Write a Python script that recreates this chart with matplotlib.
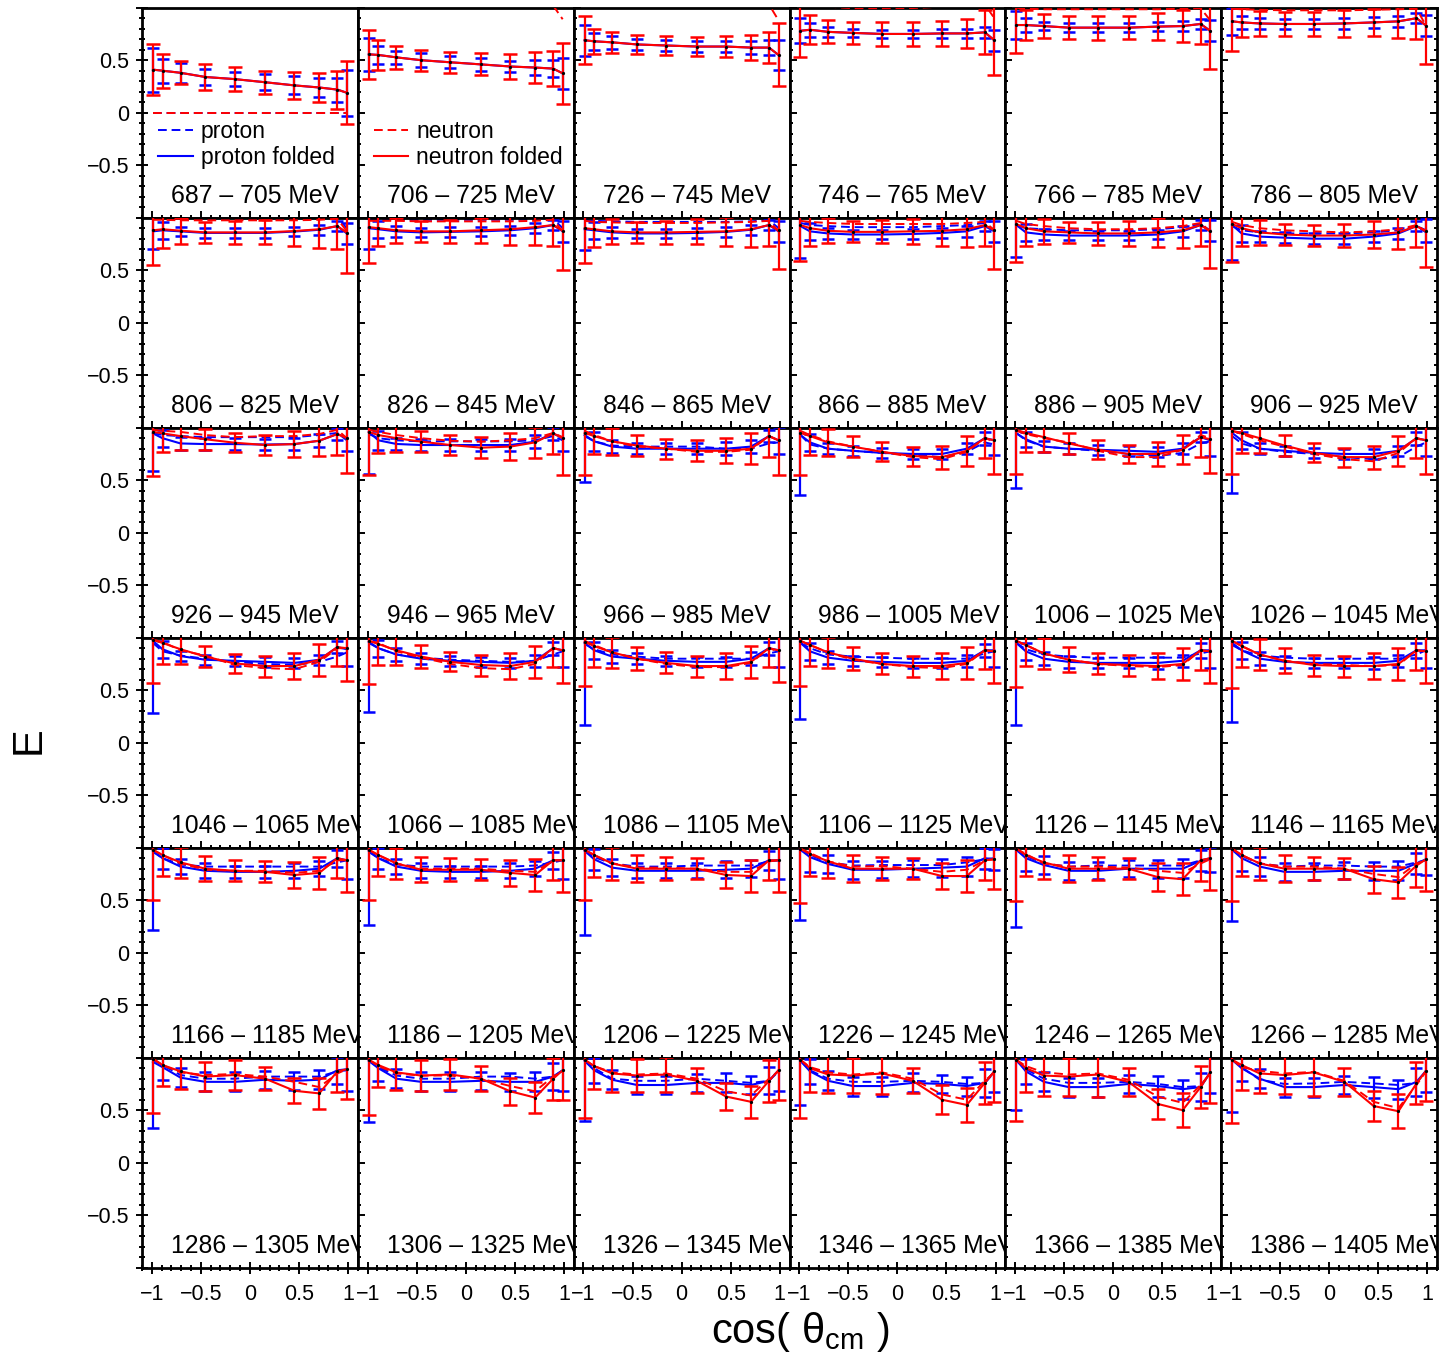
import matplotlib
matplotlib.use("Agg")
import matplotlib.pyplot as plt
from matplotlib.ticker import MultipleLocator, FixedLocator
from matplotlib.lines import Line2D

plt.rcParams['font.family'] = ['Liberation Sans', 'DejaVu Sans']
plt.rcParams['axes.unicode_minus'] = True

# cos(theta_cm) bin centres
COS_THETA = [-0.988, -0.891, -0.707, -0.454, -0.156, 0.156, 0.454, 0.707, 0.891, 0.988]

# photon energy bins (MeV)
E_LOW = [687, 706, 726, 746, 766, 786,
         806, 826, 846, 866, 886, 906,
         926, 946, 966, 986, 1006, 1026,
         1046, 1066, 1086, 1106, 1126, 1146,
         1166, 1186, 1206, 1226, 1246, 1266,
         1286, 1306, 1326, 1346, 1366, 1386]
E_HIGH = [705, 725, 745, 765, 785, 805,
          825, 845, 865, 885, 905, 925,
          945, 965, 985, 1005, 1025, 1045,
          1065, 1085, 1105, 1125, 1145, 1165,
          1185, 1205, 1225, 1245, 1265, 1285,
          1305, 1325, 1345, 1365, 1385, 1405]

# E for the proton (unfolded)
PROTON = [
    [0, 0, 0, 0, 0, 0, 0, 0, 0, 0],
    [1.1, 1.08, 1.06, 1.04, 1.02, 1.01, 1.0, 1.02, 1.04, 1.05],
    [1.08, 1.06, 1.04, 1.03, 1.02, 1.02, 1.02, 1.03, 1.04, 1.04],
    [1.04, 1.03, 1.01, 0.995, 0.995, 0.997, 1.01, 1.02, 1.03, 1.04],
    [1.01, 1.0, 0.998, 0.996, 0.996, 0.996, 0.997, 0.998, 1.0, 1.01],
    [0.998, 0.998, 0.995, 0.993, 0.993, 0.993, 0.995, 0.997, 1.0, 1.0],
    [0.99, 0.99, 0.99, 0.985, 0.985, 0.985, 0.99, 0.99, 1.0, 0.9],
    [0.99, 0.985, 0.98, 0.98, 0.98, 0.98, 0.98, 0.985, 0.99, 0.9],
    [0.98, 0.97, 0.965, 0.96, 0.96, 0.96, 0.96, 0.965, 0.98, 0.9],
    [0.95, 0.93, 0.92, 0.91, 0.91, 0.91, 0.92, 0.93, 0.95, 0.88],
    [0.93, 0.9, 0.89, 0.88, 0.88, 0.88, 0.89, 0.91, 0.94, 0.87],
    [0.92, 0.88, 0.86, 0.85, 0.85, 0.85, 0.86, 0.88, 0.92, 0.86],
    [0.95, 0.93, 0.92, 0.91, 0.91, 0.91, 0.91, 0.93, 0.95, 0.88],
    [0.94, 0.9, 0.88, 0.87, 0.87, 0.87, 0.87, 0.88, 0.92, 0.88],
    [0.92, 0.87, 0.83, 0.82, 0.82, 0.82, 0.8, 0.8, 0.85, 0.86],
    [0.93, 0.84, 0.8, 0.78, 0.76, 0.74, 0.72, 0.77, 0.86, 0.84],
    [0.95, 0.88, 0.82, 0.8, 0.78, 0.75, 0.73, 0.76, 0.85, 0.87],
    [0.92, 0.85, 0.8, 0.77, 0.75, 0.72, 0.7, 0.72, 0.82, 0.86],
    [0.95, 0.87, 0.83, 0.8, 0.77, 0.75, 0.74, 0.77, 0.82, 0.86],
    [0.95, 0.9, 0.84, 0.81, 0.79, 0.78, 0.77, 0.78, 0.84, 0.87],
    [0.94, 0.89, 0.84, 0.82, 0.8, 0.8, 0.8, 0.8, 0.85, 0.87],
    [0.95, 0.9, 0.84, 0.82, 0.81, 0.8, 0.8, 0.8, 0.85, 0.87],
    [0.95, 0.89, 0.84, 0.82, 0.81, 0.81, 0.81, 0.81, 0.85, 0.87],
    [0.93, 0.88, 0.83, 0.81, 0.8, 0.8, 0.8, 0.8, 0.84, 0.88],
    [0.96, 0.9, 0.84, 0.82, 0.82, 0.82, 0.82, 0.82, 0.86, 0.88],
    [0.96, 0.9, 0.84, 0.82, 0.82, 0.82, 0.82, 0.83, 0.86, 0.88],
    [0.97, 0.91, 0.85, 0.82, 0.82, 0.83, 0.83, 0.83, 0.87, 0.88],
    [0.98, 0.93, 0.86, 0.83, 0.835, 0.835, 0.835, 0.86, 0.89, 0.9],
    [0.98, 0.92, 0.85, 0.82, 0.83, 0.83, 0.83, 0.83, 0.88, 0.9],
    [0.98, 0.92, 0.85, 0.82, 0.83, 0.83, 0.82, 0.82, 0.86, 0.88],
    [0.98, 0.93, 0.835, 0.8, 0.8, 0.82, 0.82, 0.82, 0.87, 0.88],
    [0.97, 0.91, 0.83, 0.8, 0.8, 0.82, 0.82, 0.8, 0.82, 0.88],
    [0.97, 0.9, 0.8, 0.78, 0.78, 0.8, 0.78, 0.76, 0.78, 0.87],
    [0.97, 0.88, 0.8, 0.77, 0.77, 0.78, 0.77, 0.75, 0.76, 0.86],
    [0.97, 0.89, 0.8, 0.76, 0.76, 0.77, 0.75, 0.72, 0.73, 0.85],
    [0.98, 0.91, 0.79, 0.75, 0.755, 0.77, 0.755, 0.74, 0.76, 0.875],
]

# E for the proton after folding
PROTON_FOLDED = [
    [0.41, 0.40, 0.38, 0.34, 0.32, 0.29, 0.26, 0.24, 0.22, 0.19],
    [0.556, 0.55, 0.527, 0.5, 0.48, 0.46, 0.44, 0.43, 0.42, 0.375],
    [0.69, 0.68, 0.67, 0.65, 0.64, 0.63, 0.63, 0.62, 0.62, 0.55],
    [0.78, 0.79, 0.77, 0.76, 0.75, 0.75, 0.755, 0.755, 0.765, 0.69],
    [0.835, 0.835, 0.825, 0.81, 0.81, 0.81, 0.82, 0.825, 0.845, 0.78],
    [0.87, 0.86, 0.85, 0.845, 0.845, 0.85, 0.86, 0.87, 0.9, 0.83],
    [0.87, 0.88, 0.87, 0.855, 0.855, 0.855, 0.868, 0.885, 0.92, 0.85],
    [0.9, 0.89, 0.87, 0.86, 0.865, 0.87, 0.88, 0.9, 0.93, 0.87],
    [0.89, 0.88, 0.86, 0.85, 0.85, 0.855, 0.865, 0.885, 0.93, 0.87],
    [0.92, 0.87, 0.85, 0.84, 0.84, 0.845, 0.855, 0.87, 0.92, 0.87],
    [0.93, 0.86, 0.84, 0.83, 0.83, 0.83, 0.84, 0.87, 0.93, 0.88],
    [0.93, 0.85, 0.82, 0.81, 0.8, 0.8, 0.82, 0.85, 0.92, 0.88],
    [0.946, 0.9, 0.85, 0.844, 0.844, 0.84, 0.844, 0.876, 0.94, 0.9],
    [0.96, 0.88, 0.845, 0.835, 0.835, 0.835, 0.835, 0.867, 0.946, 0.9],
    [0.93, 0.87, 0.82, 0.8, 0.8, 0.8, 0.8, 0.82, 0.92, 0.88],
    [0.93, 0.86, 0.8, 0.78, 0.76, 0.75, 0.75, 0.8, 0.9, 0.88],
    [0.946, 0.89, 0.82, 0.8, 0.79, 0.78, 0.77, 0.8, 0.91, 0.88],
    [0.95, 0.88, 0.8, 0.78, 0.76, 0.75, 0.75, 0.78, 0.9, 0.88],
    [0.97, 0.89, 0.825, 0.79, 0.78, 0.77, 0.76, 0.79, 0.91, 0.89],
    [0.96, 0.9, 0.84, 0.8, 0.78, 0.77, 0.76, 0.78, 0.9, 0.88],
    [0.95, 0.88, 0.82, 0.8, 0.78, 0.77, 0.77, 0.8, 0.9, 0.88],
    [0.95, 0.87, 0.81, 0.78, 0.77, 0.76, 0.76, 0.78, 0.88, 0.88],
    [0.95, 0.87, 0.8, 0.77, 0.76, 0.76, 0.76, 0.78, 0.88, 0.88],
    [0.95, 0.88, 0.8, 0.77, 0.76, 0.76, 0.76, 0.78, 0.88, 0.88],
    [0.97, 0.9, 0.82, 0.78, 0.77, 0.77, 0.78, 0.8, 0.9, 0.88],
    [0.97, 0.9, 0.82, 0.78, 0.77, 0.77, 0.78, 0.8, 0.88, 0.88],
    [0.97, 0.89, 0.81, 0.78, 0.78, 0.78, 0.79, 0.8, 0.88, 0.88],
    [0.98, 0.91, 0.845, 0.79, 0.79, 0.8, 0.81, 0.82, 0.9, 0.89],
    [0.98, 0.9, 0.835, 0.78, 0.78, 0.8, 0.8, 0.8, 0.875, 0.89],
    [0.98, 0.9, 0.82, 0.77, 0.77, 0.78, 0.78, 0.78, 0.85, 0.89],
    [0.96, 0.91, 0.81, 0.77, 0.77, 0.79, 0.78, 0.79, 0.88, 0.89],
    [0.97, 0.9, 0.8, 0.77, 0.77, 0.78, 0.77, 0.77, 0.82, 0.88],
    [0.97, 0.88, 0.79, 0.74, 0.74, 0.76, 0.76, 0.74, 0.78, 0.88],
    [0.97, 0.87, 0.78, 0.73, 0.73, 0.76, 0.75, 0.73, 0.76, 0.87],
    [0.98, 0.87, 0.77, 0.72, 0.72, 0.75, 0.73, 0.7, 0.72, 0.86],
    [0.98, 0.9, 0.8, 0.72, 0.72, 0.74, 0.72, 0.7, 0.77, 0.875],
]

# E for the neutron (unfolded)
NEUTRON = [
    [0, 0, 0, 0, 0, 0, 0, 0, 0, 0],
    [1.1, 1.08, 1.06, 1.05, 1.04, 1.04, 1.04, 1.05, 1.02, 0.89],
    [1.08, 1.06, 1.05, 1.04, 1.04, 1.04, 1.04, 1.04, 1.03, 0.88],
    [1.04, 1.03, 1.01, 0.995, 0.995, 0.997, 1.01, 1.02, 1.03, 0.9],
    [1.0, 0.99, 0.985, 0.985, 0.985, 0.985, 0.985, 0.99, 0.995, 0.88],
    [0.99, 0.985, 0.98, 0.975, 0.975, 0.975, 0.98, 0.985, 0.99, 0.83],
    [0.98, 0.98, 0.975, 0.975, 0.975, 0.975, 0.975, 0.98, 0.99, 0.87],
    [0.97, 0.97, 0.97, 0.965, 0.965, 0.965, 0.965, 0.97, 0.98, 0.87],
    [0.97, 0.96, 0.955, 0.95, 0.95, 0.95, 0.955, 0.96, 0.97, 0.87],
    [0.97, 0.96, 0.95, 0.94, 0.94, 0.94, 0.94, 0.95, 0.96, 0.88],
    [0.97, 0.94, 0.92, 0.9, 0.89, 0.89, 0.9, 0.92, 0.95, 0.87],
    [0.96, 0.93, 0.9, 0.88, 0.87, 0.86, 0.87, 0.89, 0.93, 0.87],
    [0.98, 0.97, 0.96, 0.93, 0.91, 0.92, 0.92, 0.94, 0.98, 0.9],
    [0.98, 0.96, 0.93, 0.9, 0.876, 0.867, 0.88, 0.9, 0.95, 0.91],
    [0.97, 0.93, 0.87, 0.82, 0.8, 0.77, 0.77, 0.79, 0.92, 0.88],
    [0.97, 0.93, 0.87, 0.82, 0.77, 0.72, 0.7, 0.77, 0.9, 0.87],
    [0.97, 0.94, 0.9, 0.86, 0.78, 0.72, 0.72, 0.79, 0.93, 0.9],
    [0.97, 0.94, 0.88, 0.82, 0.75, 0.7, 0.68, 0.76, 0.9, 0.87],
    [0.98, 0.96, 0.88, 0.83, 0.74, 0.71, 0.7, 0.77, 0.9, 0.9],
    [0.97, 0.95, 0.87, 0.81, 0.75, 0.71, 0.7, 0.75, 0.9, 0.88],
    [0.97, 0.93, 0.86, 0.8, 0.75, 0.72, 0.72, 0.76, 0.9, 0.87],
    [0.97, 0.93, 0.86, 0.79, 0.75, 0.72, 0.71, 0.75, 0.88, 0.87],
    [0.97, 0.93, 0.85, 0.79, 0.75, 0.73, 0.72, 0.74, 0.88, 0.87],
    [0.97, 0.92, 0.84, 0.78, 0.75, 0.74, 0.73, 0.74, 0.88, 0.87],
    [0.98, 0.93, 0.85, 0.79, 0.78, 0.78, 0.76, 0.78, 0.88, 0.88],
    [0.98, 0.93, 0.85, 0.8, 0.8, 0.8, 0.78, 0.77, 0.88, 0.88],
    [0.98, 0.93, 0.85, 0.81, 0.81, 0.8, 0.77, 0.77, 0.87, 0.88],
    [0.99, 0.95, 0.87, 0.82, 0.825, 0.8, 0.77, 0.79, 0.88, 0.89],
    [0.99, 0.94, 0.85, 0.82, 0.82, 0.81, 0.78, 0.76, 0.85, 0.89],
    [0.99, 0.93, 0.85, 0.82, 0.82, 0.8, 0.75, 0.72, 0.85, 0.88],
    [0.99, 0.93, 0.86, 0.835, 0.845, 0.82, 0.77, 0.72, 0.85, 0.89],
    [0.98, 0.92, 0.85, 0.83, 0.83, 0.8, 0.73, 0.68, 0.82, 0.87],
    [0.98, 0.92, 0.86, 0.84, 0.85, 0.8, 0.68, 0.64, 0.8, 0.87],
    [0.98, 0.91, 0.86, 0.84, 0.86, 0.8, 0.65, 0.6, 0.78, 0.86],
    [0.98, 0.92, 0.86, 0.84, 0.85, 0.79, 0.63, 0.57, 0.74, 0.85],
    [0.98, 0.91, 0.875, 0.85, 0.865, 0.78, 0.58, 0.52, 0.74, 0.87],
]

# E for the neutron after folding
NEUTRON_FOLDED = [
    [0.41, 0.40, 0.38, 0.34, 0.32, 0.29, 0.26, 0.24, 0.22, 0.19],
    [0.556, 0.55, 0.527, 0.5, 0.48, 0.46, 0.44, 0.43, 0.42, 0.375],
    [0.69, 0.68, 0.67, 0.65, 0.64, 0.63, 0.63, 0.62, 0.62, 0.55],
    [0.78, 0.79, 0.77, 0.76, 0.75, 0.75, 0.755, 0.755, 0.765, 0.69],
    [0.835, 0.835, 0.825, 0.81, 0.81, 0.81, 0.82, 0.825, 0.845, 0.78],
    [0.87, 0.86, 0.85, 0.845, 0.845, 0.85, 0.86, 0.87, 0.9, 0.83],
    [0.88, 0.89, 0.876, 0.86, 0.86, 0.86, 0.873, 0.89, 0.92, 0.857],
    [0.91, 0.9, 0.88, 0.87, 0.87, 0.88, 0.89, 0.91, 0.93, 0.876],
    [0.9, 0.89, 0.87, 0.86, 0.86, 0.865, 0.87, 0.89, 0.93, 0.88],
    [0.93, 0.9, 0.875, 0.865, 0.865, 0.87, 0.875, 0.89, 0.93, 0.88],
    [0.94, 0.9, 0.87, 0.86, 0.85, 0.85, 0.86, 0.88, 0.93, 0.87],
    [0.94, 0.9, 0.86, 0.84, 0.83, 0.83, 0.84, 0.86, 0.92, 0.87],
    [0.96, 0.946, 0.92, 0.89, 0.857, 0.835, 0.844, 0.876, 0.94, 0.9],
    [0.96, 0.93, 0.9, 0.867, 0.835, 0.81, 0.82, 0.86, 0.946, 0.9],
    [0.95, 0.92, 0.87, 0.83, 0.8, 0.78, 0.78, 0.8, 0.92, 0.88],
    [0.95, 0.92, 0.86, 0.82, 0.77, 0.73, 0.72, 0.78, 0.9, 0.88],
    [0.98, 0.95, 0.91, 0.85, 0.79, 0.75, 0.75, 0.79, 0.91, 0.89],
    [0.97, 0.95, 0.9, 0.83, 0.76, 0.72, 0.72, 0.78, 0.9, 0.88],
    [0.98, 0.95, 0.89, 0.82, 0.755, 0.73, 0.73, 0.79, 0.91, 0.9],
    [0.97, 0.94, 0.88, 0.82, 0.77, 0.74, 0.73, 0.77, 0.9, 0.88],
    [0.96, 0.92, 0.86, 0.8, 0.76, 0.73, 0.73, 0.77, 0.9, 0.88],
    [0.97, 0.93, 0.86, 0.8, 0.75, 0.73, 0.73, 0.76, 0.88, 0.87],
    [0.97, 0.93, 0.85, 0.79, 0.75, 0.74, 0.73, 0.75, 0.88, 0.87],
    [0.97, 0.92, 0.84, 0.78, 0.74, 0.73, 0.73, 0.75, 0.88, 0.87],
    [0.98, 0.93, 0.86, 0.8, 0.78, 0.77, 0.74, 0.76, 0.9, 0.88],
    [0.98, 0.93, 0.85, 0.79, 0.79, 0.79, 0.76, 0.74, 0.88, 0.88],
    [0.98, 0.93, 0.85, 0.8, 0.8, 0.8, 0.74, 0.73, 0.88, 0.88],
    [0.99, 0.94, 0.87, 0.8, 0.8, 0.8, 0.73, 0.73, 0.88, 0.89],
    [0.99, 0.93, 0.86, 0.8, 0.8, 0.8, 0.72, 0.7, 0.88, 0.9],
    [0.99, 0.93, 0.85, 0.8, 0.8, 0.8, 0.7, 0.67, 0.83, 0.89],
    [0.99, 0.93, 0.87, 0.82, 0.835, 0.8, 0.685, 0.66, 0.87, 0.89],
    [0.98, 0.93, 0.86, 0.83, 0.84, 0.8, 0.68, 0.62, 0.8, 0.88],
    [0.98, 0.92, 0.85, 0.83, 0.84, 0.78, 0.63, 0.58, 0.78, 0.88],
    [0.98, 0.9, 0.84, 0.83, 0.85, 0.78, 0.6, 0.55, 0.76, 0.87],
    [0.98, 0.9, 0.83, 0.82, 0.84, 0.77, 0.56, 0.5, 0.72, 0.86],
    [0.98, 0.93, 0.85, 0.835, 0.86, 0.77, 0.54, 0.49, 0.755, 0.875],
]

# uncertainties of the folded proton values
PROTON_ERR = [
    [0.21, 0.115, 0.095, 0.08, 0.07, 0.075, 0.085, 0.095, 0.115, 0.22],
    [0.16, 0.09, 0.065, 0.064, 0.056, 0.06, 0.055, 0.07, 0.08, 0.15],
    [0.15, 0.08, 0.06, 0.05, 0.05, 0.05, 0.05, 0.06, 0.07, 0.14],
    [0.12, 0.065, 0.045, 0.04, 0.04, 0.04, 0.042, 0.045, 0.05, 0.1],
    [0.13, 0.065, 0.04, 0.04, 0.04, 0.04, 0.04, 0.045, 0.05, 0.1],
    [0.13, 0.06, 0.05, 0.05, 0.05, 0.05, 0.05, 0.05, 0.05, 0.1],
    [0.17, 0.08, 0.045, 0.045, 0.045, 0.045, 0.045, 0.05, 0.05, 0.1],
    [0.2, 0.08, 0.05, 0.045, 0.045, 0.045, 0.045, 0.05, 0.05, 0.1],
    [0.2, 0.08, 0.05, 0.045, 0.045, 0.045, 0.045, 0.05, 0.05, 0.1],
    [0.3, 0.08, 0.05, 0.045, 0.045, 0.045, 0.045, 0.05, 0.05, 0.1],
    [0.3, 0.08, 0.05, 0.045, 0.045, 0.045, 0.045, 0.05, 0.05, 0.1],
    [0.33, 0.08, 0.05, 0.05, 0.05, 0.05, 0.05, 0.05, 0.05, 0.11],
    [0.36, 0.08, 0.06, 0.055, 0.055, 0.055, 0.06, 0.06, 0.06, 0.12],
    [0.4, 0.09, 0.06, 0.055, 0.055, 0.055, 0.06, 0.06, 0.06, 0.12],
    [0.45, 0.09, 0.06, 0.055, 0.055, 0.055, 0.06, 0.06, 0.06, 0.13],
    [0.57, 0.08, 0.05, 0.05, 0.05, 0.05, 0.05, 0.05, 0.06, 0.14],
    [0.52, 0.07, 0.05, 0.05, 0.05, 0.05, 0.05, 0.05, 0.05, 0.15],
    [0.57, 0.08, 0.05, 0.05, 0.05, 0.05, 0.05, 0.05, 0.06, 0.15],
    [0.69, 0.08, 0.05, 0.05, 0.05, 0.05, 0.05, 0.05, 0.06, 0.16],
    [0.67, 0.08, 0.06, 0.05, 0.05, 0.05, 0.05, 0.06, 0.06, 0.16],
    [0.78, 0.08, 0.06, 0.05, 0.05, 0.05, 0.05, 0.06, 0.06, 0.16],
    [0.72, 0.08, 0.06, 0.05, 0.05, 0.05, 0.05, 0.06, 0.06, 0.16],
    [0.78, 0.08, 0.06, 0.06, 0.05, 0.05, 0.06, 0.06, 0.07, 0.17],
    [0.75, 0.08, 0.06, 0.06, 0.05, 0.05, 0.06, 0.06, 0.07, 0.17],
    [0.75, 0.1, 0.07, 0.07, 0.06, 0.06, 0.07, 0.07, 0.08, 0.18],
    [0.71, 0.1, 0.07, 0.07, 0.06, 0.06, 0.07, 0.07, 0.08, 0.18],
    [0.8, 0.1, 0.08, 0.07, 0.07, 0.07, 0.08, 0.08, 0.09, 0.18],
    [0.67, 0.14, 0.09, 0.085, 0.08, 0.08, 0.085, 0.09, 0.1, 0.1],
    [0.735, 0.12, 0.09, 0.085, 0.08, 0.08, 0.085, 0.09, 0.1, 0.12],
    [0.68, 0.12, 0.09, 0.085, 0.08, 0.08, 0.085, 0.09, 0.1, 0.15],
    [0.63, 0.12, 0.09, 0.09, 0.09, 0.085, 0.085, 0.09, 0.13, 0.21],
    [0.58, 0.12, 0.09, 0.09, 0.09, 0.085, 0.085, 0.09, 0.13, 0.2],
    [0.57, 0.12, 0.09, 0.09, 0.09, 0.085, 0.09, 0.09, 0.13, 0.2],
    [0.42, 0.12, 0.09, 0.09, 0.09, 0.09, 0.09, 0.09, 0.13, 0.2],
    [0.48, 0.12, 0.09, 0.09, 0.09, 0.09, 0.1, 0.09, 0.13, 0.2],
    [0.5, 0.12, 0.09, 0.09, 0.09, 0.09, 0.1, 0.09, 0.13, 0.2],
]

# uncertainties of the folded neutron values
NEUTRON_ERR = [
    [0.24, 0.16, 0.11, 0.12, 0.115, 0.11, 0.13, 0.14, 0.18, 0.30],
    [0.235, 0.145, 0.11, 0.1, 0.1, 0.105, 0.115, 0.15, 0.17, 0.29],
    [0.23, 0.12, 0.1, 0.09, 0.09, 0.09, 0.1, 0.12, 0.15, 0.3],
    [0.25, 0.14, 0.11, 0.105, 0.11, 0.115, 0.12, 0.14, 0.21, 0.33],
    [0.27, 0.145, 0.115, 0.11, 0.115, 0.11, 0.125, 0.15, 0.19, 0.36],
    [0.28, 0.14, 0.12, 0.11, 0.11, 0.125, 0.13, 0.16, 0.2, 0.37],
    [0.33, 0.18, 0.125, 0.1, 0.11, 0.115, 0.14, 0.18, 0.22, 0.38],
    [0.34, 0.17, 0.12, 0.1, 0.11, 0.12, 0.15, 0.17, 0.2, 0.37],
    [0.33, 0.17, 0.12, 0.1, 0.11, 0.12, 0.14, 0.17, 0.2, 0.37],
    [0.34, 0.17, 0.12, 0.1, 0.11, 0.12, 0.14, 0.17, 0.2, 0.37],
    [0.36, 0.17, 0.12, 0.1, 0.11, 0.12, 0.14, 0.17, 0.2, 0.35],
    [0.36, 0.17, 0.12, 0.1, 0.1, 0.11, 0.13, 0.16, 0.2, 0.34],
    [0.42, 0.18, 0.13, 0.1, 0.09, 0.095, 0.12, 0.15, 0.2, 0.33],
    [0.41, 0.17, 0.13, 0.1, 0.095, 0.1, 0.13, 0.15, 0.2, 0.35],
    [0.4, 0.17, 0.13, 0.1, 0.095, 0.1, 0.12, 0.15, 0.2, 0.33],
    [0.4, 0.18, 0.13, 0.1, 0.09, 0.09, 0.11, 0.14, 0.19, 0.32],
    [0.42, 0.18, 0.14, 0.1, 0.09, 0.09, 0.11, 0.14, 0.19, 0.32],
    [0.41, 0.19, 0.14, 0.1, 0.09, 0.09, 0.11, 0.14, 0.19, 0.32],
    [0.41, 0.2, 0.14, 0.1, 0.09, 0.1, 0.12, 0.15, 0.18, 0.31],
    [0.41, 0.2, 0.14, 0.11, 0.09, 0.1, 0.12, 0.15, 0.18, 0.31],
    [0.42, 0.2, 0.15, 0.11, 0.1, 0.1, 0.12, 0.15, 0.18, 0.3],
    [0.43, 0.2, 0.15, 0.11, 0.1, 0.1, 0.12, 0.15, 0.18, 0.3],
    [0.44, 0.2, 0.15, 0.12, 0.1, 0.1, 0.12, 0.15, 0.19, 0.3],
    [0.45, 0.2, 0.15, 0.12, 0.1, 0.1, 0.12, 0.15, 0.19, 0.3],
    [0.48, 0.2, 0.15, 0.12, 0.1, 0.1, 0.12, 0.15, 0.19, 0.3],
    [0.48, 0.2, 0.15, 0.12, 0.11, 0.1, 0.12, 0.15, 0.19, 0.3],
    [0.48, 0.21, 0.16, 0.13, 0.11, 0.1, 0.12, 0.15, 0.19, 0.3],
    [0.52, 0.21, 0.16, 0.13, 0.11, 0.1, 0.12, 0.15, 0.19, 0.28],
    [0.5, 0.2, 0.16, 0.13, 0.11, 0.1, 0.13, 0.15, 0.2, 0.3],
    [0.5, 0.2, 0.16, 0.13, 0.11, 0.1, 0.13, 0.15, 0.2, 0.3],
    [0.52, 0.2, 0.17, 0.14, 0.14, 0.11, 0.12, 0.15, 0.2, 0.28],
    [0.53, 0.21, 0.17, 0.15, 0.15, 0.12, 0.13, 0.15, 0.2, 0.28],
    [0.55, 0.22, 0.18, 0.16, 0.17, 0.12, 0.13, 0.15, 0.2, 0.28],
    [0.55, 0.23, 0.18, 0.17, 0.2, 0.12, 0.14, 0.16, 0.2, 0.29],
    [0.58, 0.23, 0.19, 0.18, 0.21, 0.13, 0.14, 0.16, 0.2, 0.29],
    [0.6, 0.24, 0.19, 0.18, 0.22, 0.13, 0.14, 0.16, 0.2, 0.29],
]

N_ROWS, N_COLS = 6, 6
BLUE, RED = '#0000ff', '#ff0000'
DASH = (0, (4.5, 2.5))

fig, axes = plt.subplots(N_ROWS, N_COLS, figsize=(14.56, 13.61), dpi=100)
fig.subplots_adjust(left=142 / 1456, right=1437 / 1456,
                    top=1 - 7.7 / 1361, bottom=1 - 1267.7 / 1361,
                    wspace=0, hspace=0)

for k in range(N_ROWS * N_COLS):
    r, c = divmod(k, N_COLS)
    ax = axes[r][c]

    ax.plot(COS_THETA, PROTON[k], color=BLUE, lw=1.4, ls=DASH, zorder=2)
    ax.errorbar(COS_THETA, PROTON_FOLDED[k], yerr=PROTON_ERR[k], color=BLUE,
                lw=1.5, elinewidth=1.6, capsize=4, capthick=1.8, zorder=3)
    ax.plot(COS_THETA, NEUTRON[k], color=RED, lw=1.4, ls=DASH, zorder=4)
    ax.errorbar(COS_THETA, NEUTRON_FOLDED[k], yerr=NEUTRON_ERR[k], color=RED,
                lw=1.5, elinewidth=1.6, capsize=5, capthick=1.8, zorder=5)
    ax.plot(COS_THETA, NEUTRON_FOLDED[k], ls='none', marker='o', ms=1.3,
            color='black', zorder=6)

    ax.set_xlim(-1.1, 1.1)
    ax.set_ylim(-1, 1)
    ax.xaxis.set_major_locator(FixedLocator([-1, -0.5, 0, 0.5, 1]))
    ax.xaxis.set_minor_locator(MultipleLocator(0.1))
    ax.yaxis.set_major_locator(FixedLocator([-1, -0.5, 0, 0.5, 1]))
    ax.yaxis.set_minor_locator(MultipleLocator(0.1))

    for sp in ax.spines.values():
        sp.set_linewidth(2.0)

    ax.tick_params(which='both', direction='in', width=1.4, top=False,
                   right=(c == N_COLS - 1), labelsize=15.5)
    ax.tick_params(which='major', length=5)
    ax.tick_params(which='minor', length=2.5)

    if c == 0:
        ax.set_yticklabels(['', '\u22120.5', '0', '0.5', ''])
        ax.tick_params(axis='y', which='both', direction='inout', pad=5)
        ax.tick_params(axis='y', which='major', length=8)
        ax.tick_params(axis='y', which='minor', length=4)
    else:
        ax.tick_params(axis='y', labelleft=False)

    if r == N_ROWS - 1:
        ax.set_xticklabels(['\u22121', '\u22120.5', '0', '0.5', '1'])
        ax.tick_params(axis='x', which='both', direction='inout', pad=7)
        ax.tick_params(axis='x', which='major', length=9)
        ax.tick_params(axis='x', which='minor', length=4)
    else:
        ax.tick_params(axis='x', labelbottom=False)

    ax.text(0.134, 0.103, f"{E_LOW[k]} \u2013 {E_HIGH[k]} MeV",
            transform=ax.transAxes, fontsize=17.8, ha='left', va='center',
            clip_on=True)

# legends in the first two panels
h_p = [Line2D([], [], color=BLUE, lw=1.4, ls=DASH), Line2D([], [], color=BLUE, lw=1.5)]
h_n = [Line2D([], [], color=RED, lw=1.4, ls=DASH), Line2D([], [], color=RED, lw=1.5)]
for ax, handles, labels in ((axes[0][0], h_p, ['proton', 'proton folded']),
                            (axes[0][1], h_n, ['neutron', 'neutron folded'])):
    ax.legend(handles, labels, loc='upper left', bbox_to_anchor=(0.075, 0.465),
              frameon=False, fontsize=16.5, handlelength=1.5, handletextpad=0.35,
              labelspacing=0.15, borderpad=0, borderaxespad=0)

fig.text(0.020, 0.456, 'E', rotation=90, fontsize=30, ha='center', va='center')
fig.text(0.5495, 0.021, r'cos( $\mathregular{\theta_{cm}}$ )', fontsize=30,
         ha='center', va='center')

fig.savefig('out.png', dpi=100)
